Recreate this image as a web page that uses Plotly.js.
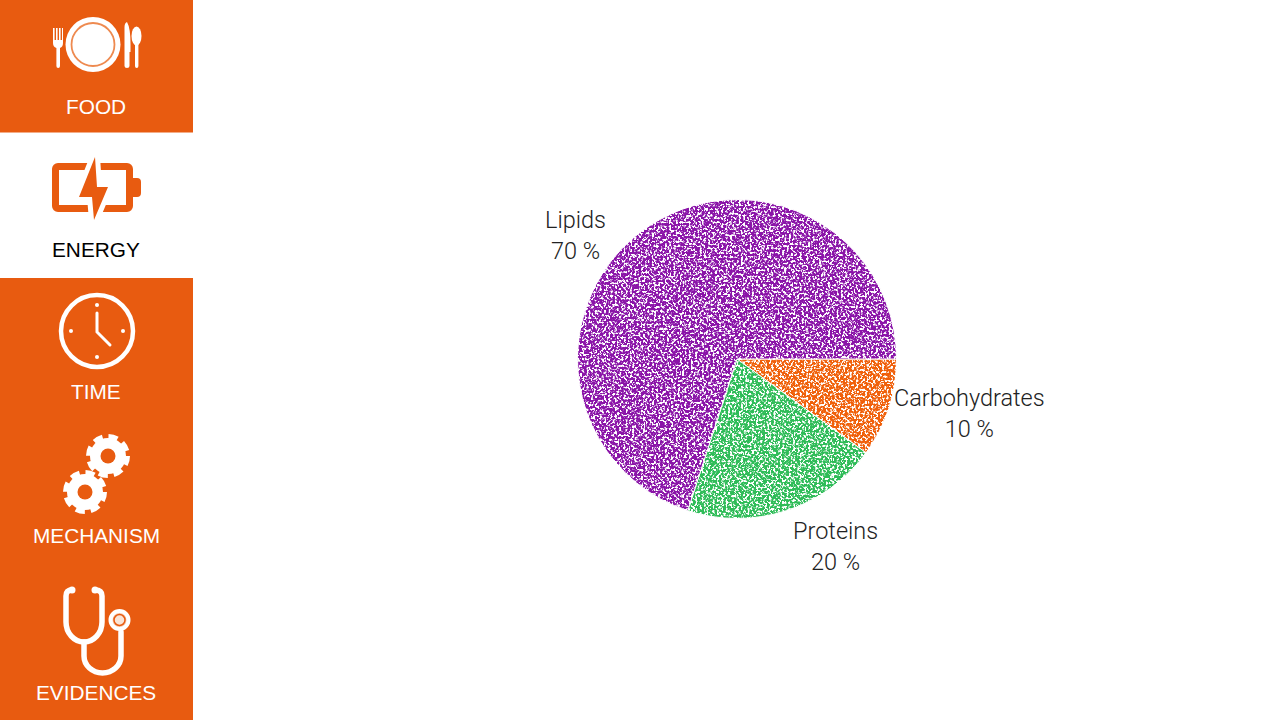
<!DOCTYPE html>
<html>
<head>
<meta charset="utf-8">
<script src="https://cdn.plot.ly/plotly-3.0.1.min.js"></script>
<style>html,body{margin:0;padding:0;background:#fff;overflow:hidden}#chart{width:1280px;height:720px}</style>
</head>
<body>
<svg width="0" height="0" style="position:absolute">
  <filter id="speckle" x="0" y="0" width="1" height="1" color-interpolation-filters="sRGB">
    <feTurbulence type="fractalNoise" baseFrequency="0.46" numOctaves="2" seed="7" result="n"/>
    <feColorMatrix in="n" type="matrix" values="0 0 0 0 0  0 0 0 0 0  0 0 0 0 0  6 6 0 0 -5.1" result="mask"/>
    <feGaussianBlur in="mask" stdDeviation="0.4" result="soft"/>
    <feComposite in="SourceGraphic" in2="soft" operator="in"/>
  </filter>
</svg>
<div id="chart"></div>
<script>
var categories = ['Carbohydrates', 'Proteins', 'Lipids'];
var shares = [10, 20, 70];
var sliceColors = ['#F0600A', '#2FBC58', '#8A14A8'];
var labelX = [969, 835, 575];
var labelY = [414, 546, 236];

var menuLabels = ['FOOD', 'ENERGY', 'TIME', 'MECHANISM', 'EVIDENCES'];
var menuY = [106, 249, 392, 535, 692];
var menuColors = ['#FFFFFF', '#000000', '#FFFFFF', '#FFFFFF', '#FFFFFF'];
var ORANGE = '#E85B10';
var W = 1280, H = 720;

function svgUri(body) {
  return 'data:image/svg+xml;utf8,' + encodeURIComponent(
    '<svg xmlns="http://www.w3.org/2000/svg" width="' + W + '" height="' + H + '" viewBox="0 0 ' + W + ' ' + H + '">' + body + '</svg>');
}
var O = ORANGE;
var food =
  '<g fill="#fff"><circle cx="93" cy="44.5" r="27.5"/>' +
  '<circle cx="93" cy="44.5" r="21.500" fill="#fff" stroke="#EE8A50" stroke-width="1.800"/>' +
  '<path d="M53 28h1.600v12h1.400V28h1.600v12h1.400V28h1.600v12h1.400V28H63v15q0 4-3 5V66q0 2-1.800 2t-1.800-2V48q-3.400-1-3.400-5z"/>' +
  '<path d="M127 22q3.500 6 3.500 22v8h-1v14q0 2-2.500 2t-2.500-2V27q0-4 2.500-5z"/>' +
  '<ellipse cx="136.500" cy="36" rx="5" ry="9.500"/><path d="M135 42h3.400v24q0 2-1.700 2t-1.700-2z"/></g>';
var battery =
  '<path d="M52 169a6 6 0 0 1 6-6H127a6 6 0 0 1 6 6v9h4a4 4 0 0 1 4 4v11a4 4 0 0 1-4 4h-4v9a6 6 0 0 1-6 6H58a6 6 0 0 1-6-6zM59 170v35H126v-35z" fill="' + O + '" fill-rule="evenodd"/>' +
  '<path d="M95 157L79 197H92L94 220L108 187H97Z" fill="#fff" stroke="#fff" stroke-width="10" stroke-linejoin="round"/>' +
  '<path d="M95 157L79 197H92L94 220L108 187H97Z" fill="' + O + '"/>';
var clock =
  '<g fill="none" stroke="#fff" stroke-linecap="round"><circle cx="97" cy="331" r="36" stroke-width="4.500"/>' +
  '<path d="M97 313V332L110 345" stroke-width="3"/></g>' +
  '<g fill="#fff"><circle cx="97" cy="305" r="2"/><circle cx="71" cy="331" r="2"/><circle cx="123" cy="331" r="2"/><circle cx="97" cy="357" r="2"/></g>';
function gear(cx, cy) {
  return '<circle cx="' + cx + '" cy="' + cy + '" r="18" fill="#fff"/>' +
    '<circle cx="' + cx + '" cy="' + cy + '" r="19.500" fill="none" stroke="#fff" stroke-width="5" stroke-dasharray="9.300 6"/>' +
    '<circle cx="' + cx + '" cy="' + cy + '" r="7.500" fill="' + O + '"/>';
}
var gears = gear(108, 456) + gear(85, 492);
var steth =
  '<g fill="none" stroke="#fff" stroke-linecap="round">' +
  '<path d="M72 590Q66 590 66 596V622A18 20 0 0 0 102 622V596Q102 590 95 590" stroke-width="5.500"/>' +
  '<path d="M84 642V656A18.500 17 0 0 0 121 656V632" stroke-width="5.500"/></g>' +
  '<g fill="#fff"><circle cx="72" cy="590" r="3.500"/><circle cx="95" cy="590" r="3.500"/></g>' +
  '<circle cx="119.500" cy="620" r="9" fill="#F6C9AE" stroke="#fff" stroke-width="4"/>' +
  '<circle cx="119.500" cy="620" r="5.500" fill="#F9E4D6" stroke="' + O + '" stroke-width="1.500"/>';

var annotations = [];
menuLabels.forEach(function (t, i) {
  annotations.push({
    text: t, xref: 'paper', yref: 'paper', x: 96 / W, y: 1 - menuY[i] / H,
    xanchor: 'center', yanchor: 'middle', showarrow: false,
    font: {family: 'Liberation Sans, Arial, sans-serif', size: 20.800, color: menuColors[i]}
  });
});
categories.forEach(function (c, i) {
  annotations.push({
    text: c + '<br>' + shares[i] + ' %', xref: 'paper', yref: 'paper', x: labelX[i] / W, y: 1 - labelY[i] / H,
    xanchor: 'center', yanchor: 'middle', align: 'center', showarrow: false,
    font: {family: 'Roboto, Liberation Sans, sans-serif', size: 23.500, weight: 300, color: '#222222'}
  });
});

var cx = 737, cy = 359, r = 159.500;
var trace = {
  type: 'pie', labels: categories, values: shares, sort: false, direction: 'clockwise', rotation: 90,
  textinfo: 'none', hoverinfo: 'skip', showlegend: false,
  marker: {colors: sliceColors, line: {color: '#FFFFFF', width: 1}},
  domain: {x: [(cx - r) / W, (cx + r) / W], y: [1 - (cy + r) / H, 1 - (cy - r) / H]}
};
var layout = {
  width: W, height: H, margin: {l: 0, r: 0, t: 0, b: 0}, paper_bgcolor: '#fff', plot_bgcolor: '#fff',
  showlegend: false, annotations: annotations,
  shapes: [
    {type: 'rect', xref: 'paper', yref: 'paper', x0: 0, x1: 193 / W, y0: 1, y1: 1 - 132.500 / H, fillcolor: O, line: {width: 0}, layer: 'below'},
    {type: 'rect', xref: 'paper', yref: 'paper', x0: 0, x1: 193 / W, y0: 1 - 278 / H, y1: 0, fillcolor: O, line: {width: 0}, layer: 'below'}
  ],
  images: [{
    source: svgUri(food + battery + clock + gears + steth),
    xref: 'paper', yref: 'paper', x: 0, y: 1, sizex: 1, sizey: 1, xanchor: 'left', yanchor: 'top', sizing: 'stretch', layer: 'above'
  }]
};
Plotly.newPlot('chart', [trace], layout, {displayModeBar: false, staticPlot: true}).then(function () {
  document.querySelectorAll('#chart .slice path.surface').forEach(function (p) {
    p.style.filter = 'url(#speckle)';
  });
});
</script>
</body>
</html>
